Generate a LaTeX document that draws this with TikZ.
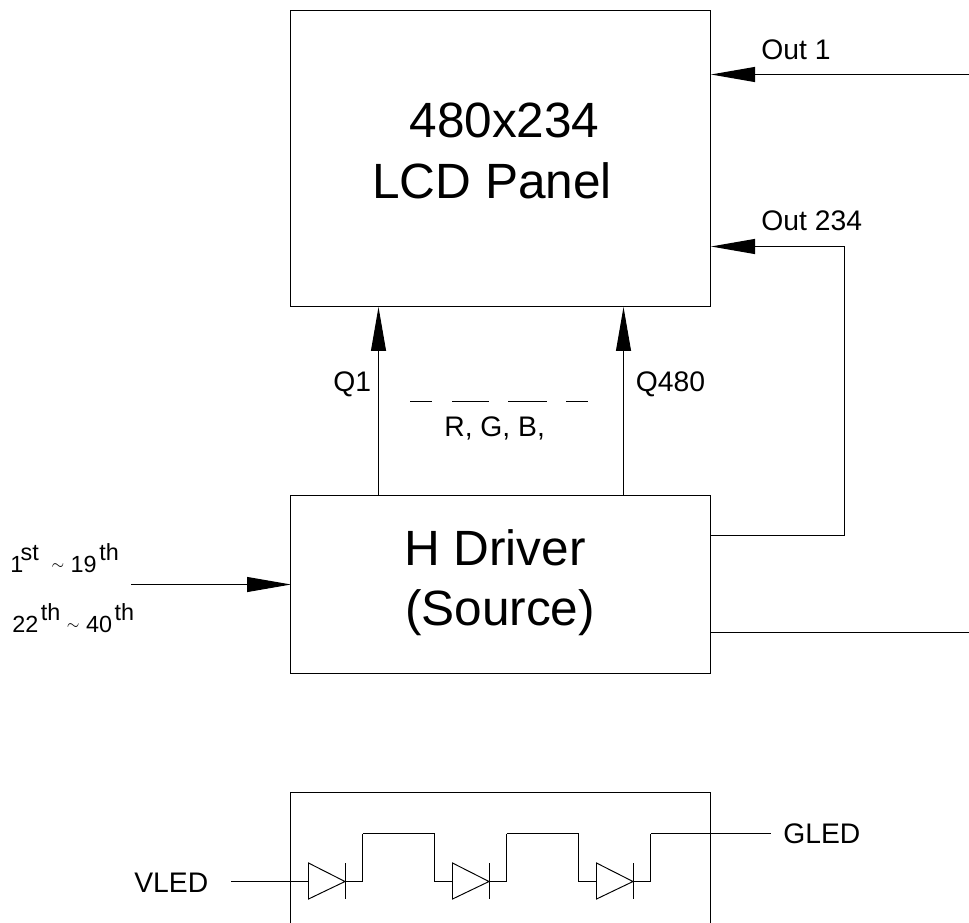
\documentclass[tikz,border=0pt]{standalone}
\usepackage{fontspec}
\setmainfont{Liberation Sans}
\usetikzlibrary{arrows.meta}
\newcommand{\raised}[1]{\raisebox{6.8pt}{#1}}
\newcommand{\tilda}{\raisebox{1.6pt}{\fontsize{9.5}{12}\selectfont$\sim$}}
\tikzset{
    blockbox/.style={draw,line width=.55pt,inner sep=0,outer sep=0},
    bigtext/.style={inner sep=0,anchor=base,font=\fontsize{28.2}{34}\selectfont},
    smalltext/.style={inner sep=0,anchor=base west,font=\fontsize{16.1}{19}\selectfont},
    inputtext/.style={inner sep=0,anchor=base west,font=\fontsize{13.3}{16}\selectfont},
    wire/.style={line width=.55pt},
    arrowwire/.style={line width=.55pt,-{Triangle[length=.88cm,width=.3cm]}}
}
\begin{document}
\begin{tikzpicture}[x=.02cm,y=-.02cm]
                \useasboundingbox (0,0) rectangle (969,922);
                \clip (0,0) rectangle (969,922);
                % blocks
                \node [blockbox,minimum width=8.42cm,minimum height=5.94cm] (panel) at (500.5,158.5) {};
                \node [blockbox,minimum width=8.42cm,minimum height=3.56cm] (driver) at (500.5,584) {};
                \node [blockbox,minimum width=8.42cm,minimum height=3.4cm] (leds) at (500.5,877) {};
                \node [bigtext] (panelsize) at (504.5,138) {480x234};
                \node [bigtext] (panelname) at (492,198) {LCD Panel};
                \node [bigtext] (drivername) at (495,565) {H Driver};
                \node [bigtext] (driverkind) at (500,625) {(Source)};
                % free ends and tap points
                \coordinate (q1top) at (378.5,307);
                \coordinate (q1bot) at (378.5,495);
                \coordinate (qlasttop) at (623.5,307);
                \coordinate (qlastbot) at (623.5,495);
                \coordinate (out1end) at (969,74.5);
                \coordinate (out1tip) at (711,74.5);
                \coordinate (outlasttip) at (711,246.5);
                \coordinate (outlastc1) at (844.5,246.5);
                \coordinate (outlastc2) at (844.5,535.5);
                \coordinate (outlaststart) at (711,535.5);
                \coordinate (lowstart) at (711,632.5);
                \coordinate (lowend) at (969,632.5);
                \coordinate (instart) at (131,584.5);
                \coordinate (intip) at (291,584.5);
                % connectors
                \draw [arrowwire] (q1bot) -- (q1top);
                \draw [arrowwire] (qlastbot) -- (qlasttop);
                \draw [arrowwire] (out1end) -- (out1tip);
                \draw [arrowwire] (outlaststart) -- (outlastc2) -- (outlastc1) -- (outlasttip);
                \draw [wire] (lowstart) -- (lowend);
                \draw [arrowwire] (instart) -- (intip);
                % bars over the colours
                \draw [wire] (410,401) -- (432,401);
                \draw [wire] (452,401) -- (489,401);
                \draw [wire] (508,401) -- (547,401);
                \draw [wire] (566,401) -- (588,401);
                % labels
                \node [smalltext] (out1) at (761,60) {Out 1};
                \node [smalltext] (outlast) at (761,230) {Out 234};
                \node [smalltext] (q1) at (333,391) {Q1};
                \node [smalltext] (qlast) at (635.5,391) {Q480};
                \node [smalltext] (rgb) at (444,436) {R, G, B,};
                \node [inputtext] (inupper) at (10,572) {1\hspace{-1.5pt}\raised{st}\hspace{3.5pt} \tilda{} 19\hspace{1.5pt}\raised{th}};
                \node [inputtext] (inlower) at (12,632) {22\hspace{1.5pt}\raised{th} \tilda{} 40\hspace{1.5pt}\raised{th}};
                \node [smalltext] (vled) at (134,892) {VLED};
                \node [smalltext] (gled) at (783,843.5) {GLED};
                % diode string
                \foreach \x in {0,144,288} {
                    \draw [wire] (308.5+\x,863) -- (345+\x,881.5) -- (308.5+\x,899) -- cycle;
                    \draw [wire] (345+\x,863) -- (345+\x,899);
                    \draw [wire] (345+\x,881.5) -- (362.5+\x,881.5) -- (362.5+\x,833.5);
                }
                \draw [wire] (362.5,833.5) -- (434.5,833.5) -- (434.5,881.5) -- (452.5,881.5);
                \draw [wire] (506.5,833.5) -- (578.5,833.5) -- (578.5,881.5) -- (596.5,881.5);
                \draw [wire] (650.5,833.5) -- (771,833.5);
                \draw [wire] (231,881.5) -- (308.5,881.5);
            \end{tikzpicture}
\end{document}
